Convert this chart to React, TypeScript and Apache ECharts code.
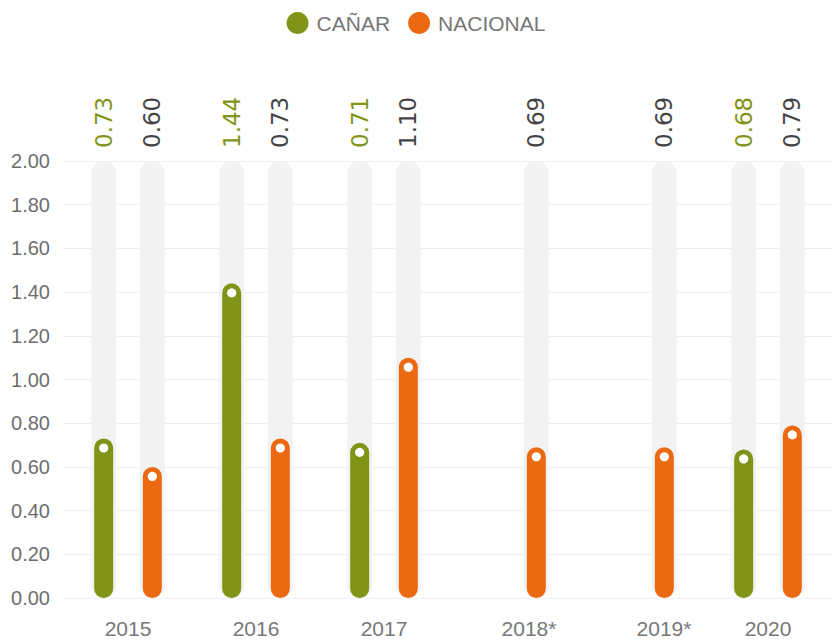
import React, { useEffect, useRef } from "react";
import * as echarts from "echarts";

const categories = ["2015", "2016", "2017", "2018*", "2019*", "2020"];
const canar: (number | null)[] = [0.73, 1.44, 0.71, null, null, 0.68];
const nacional: (number | null)[] = [0.6, 0.73, 1.1, 0.69, 0.69, 0.79];
const yMin = 0;
const yMax = 2;
const yInterval = 0.2;

const GREEN = "#819418";
const ORANGE = "#ec6913";
const BG = "#f2f2f2";
const LABEL_GRAY = "#444444";
const AXIS_GRAY = "#777777";

const labelShift: Record<string, string> = { "2018*": "a", "2019*": "b" };

export default function App() {
  const ref = useRef<HTMLDivElement>(null);
  useEffect(() => {
    if (!ref.current) return;
    const chart = echarts.init(ref.current, null, { renderer: "svg" });
    const toData = (arr: (number | null)[]) => arr.map((v) => (v == null ? "-" : v));
    const toFull = (arr: (number | null)[]) => arr.map((v) => (v == null ? "-" : yMax));

    const barCommon = (color: string) => ({
      type: "bar",
      xAxisIndex: 0,
      barWidth: 19,
      barGap: "156%",
      itemStyle: { color, borderRadius: 10 },
      z: 3,
    });
    const bgCommon = (arr: (number | null)[], color: string) => ({
      type: "bar",
      xAxisIndex: 1,
      barWidth: 25,
      barGap: "94%",
      silent: true,
      data: toFull(arr),
      itemStyle: { color: BG, borderRadius: 13 },
      label: {
        show: true,
        position: "top",
        rotate: 90,
        align: "left",
        verticalAlign: "middle",
        distance: 13,
        fontFamily: "DejaVu Sans",
        fontSize: 23,
        color,
        formatter: (p: any) =>
          arr[p.dataIndex] == null ? "" : (arr[p.dataIndex] as number).toFixed(2),
      },
      z: 1,
    });
    const dotCommon = (arr: (number | null)[]) => ({
      type: "pictorialBar",
      xAxisIndex: 0,
      barWidth: 19,
      barGap: "156%",
      silent: true,
      symbol: "circle",
      symbolSize: 9,
      symbolPosition: "end",
      symbolOffset: [0, 5],
      itemStyle: { color: "#ffffff" },
      data: toData(arr),
      z: 5,
    });

    const axisFont = "Liberation Sans, Arial, sans-serif";

    chart.setOption({
      animation: false,
      legend: {
        data: ["CAÑAR", "NACIONAL"],
        top: 7,
        left: "center",
        icon: "circle",
        itemWidth: 22,
        itemHeight: 22,
        itemGap: 18,
        itemStyle: { borderWidth: 0 },
        textStyle: { fontSize: 21, color: AXIS_GRAY, fontFamily: axisFont, padding: [0, 0, 0, 3] },
      },
      grid: { left: 64, right: -3, top: 161, bottom: 43, containLabel: false },
      xAxis: [
        {
          type: "category",
          data: categories,
          axisLine: { show: false },
          axisTick: { show: false },
          axisLabel: {
            margin: 20,
            fontSize: 21,
            color: AXIS_GRAY,
            fontFamily: axisFont,
            formatter: (v: string) => (labelShift[v] ? `{${labelShift[v]}|${v}}` : v),
            rich: {
              a: { padding: [0, 0, 0, 34], fontSize: 21, color: AXIS_GRAY, fontFamily: axisFont },
              b: { padding: [0, 0, 0, 48], fontSize: 21, color: AXIS_GRAY, fontFamily: axisFont },
            },
          },
        },
        {
          type: "category",
          data: categories,
          show: false,
          position: "bottom",
        },
      ],
      yAxis: {
        type: "value",
        min: yMin,
        max: yMax,
        interval: yInterval,
        axisLine: { show: false },
        axisTick: { show: false },
        axisLabel: {
          margin: 14,
          fontSize: 20,
          color: "#6e6e6e",
          fontFamily: axisFont,
          formatter: (v: number) => v.toFixed(2),
        },
        splitLine: { lineStyle: { color: "#eeeeee", width: 1 } },
      },
      series: [
        { ...barCommon(GREEN), name: "CAÑAR", data: toData(canar) },
        { ...barCommon(ORANGE), name: "NACIONAL", data: toData(nacional) },
        { ...bgCommon(canar, GREEN), name: "bgC" },
        { ...bgCommon(nacional, LABEL_GRAY), name: "bgN" },
        { ...dotCommon(canar), name: "dotC" },
        { ...dotCommon(nacional), name: "dotN" },
      ],
    });
    return () => chart.dispose();
  }, []);

  return (
    <div
      ref={ref}
      style={{ position: "absolute", left: 0, top: 0, width: 832, height: 641, background: "#fff" }}
    />
  );
}
